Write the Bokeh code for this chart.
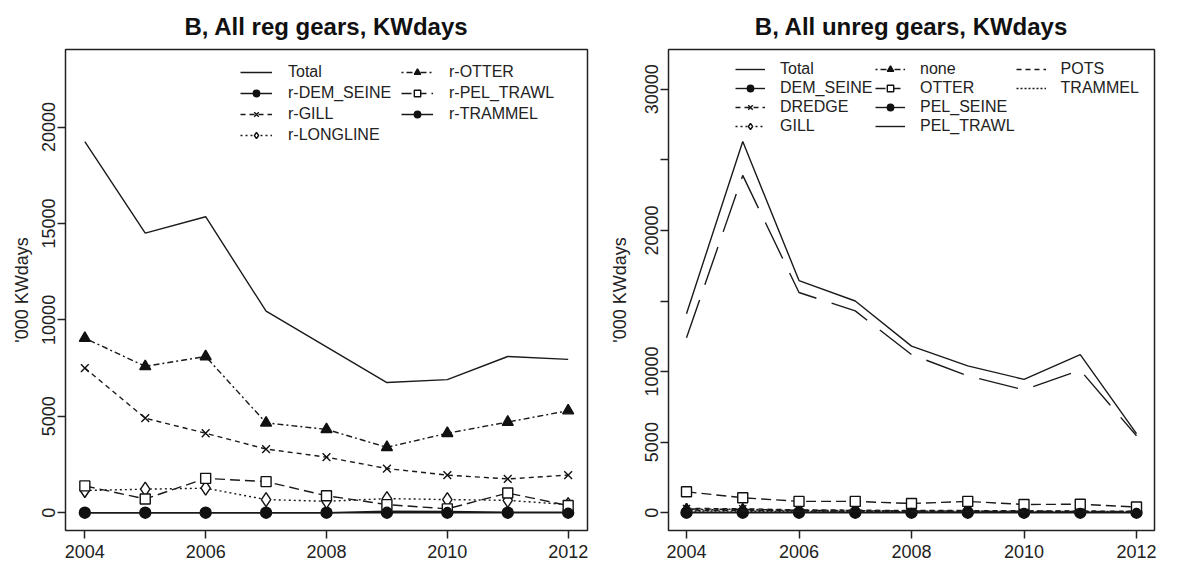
from bokeh.plotting import figure
from bokeh.models import Range1d, FixedTicker, Legend, LegendItem
from bokeh.layouts import row
from bokeh.embed import file_html
from bokeh.resources import INLINE

years = [2004, 2005, 2006, 2007, 2008, 2009, 2010, 2011, 2012]

# Left panel: regulated gears ('000 KWdays)
reg_total = [19250, 14500, 15350, 10450, 8600, 6750, 6900, 8100, 7950]
reg_dem_seine = [0, 0, 0, 0, 0, 0, 0, 0, 0]
reg_gill = [7500, 4900, 4120, 3300, 2880, 2290, 1950, 1750, 1950]
reg_longline = [1150, 1220, 1270, 680, 590, 730, 680, 640, 420]
reg_otter = [9050, 7590, 8100, 4660, 4320, 3390, 4120, 4700, 5290]
reg_pel_trawl = [1390, 710, 1780, 1610, 880, 420, 200, 1020, 370]
reg_trammel = [0, 0, 0, 0, 0, 80, 60, 30, 30]

# Right panel: unregulated gears ('000 KWdays)
unreg_total = [14100, 26300, 16450, 15000, 11800, 10400, 9450, 11200, 5600]
unreg_dem_seine = [0, 0, 0, 0, 0, 0, 0, 0, 0]
unreg_dredge = [300, 280, 200, 180, 150, 150, 130, 120, 100]
unreg_gill = [220, 200, 150, 130, 110, 100, 90, 80, 70]
unreg_none = [260, 240, 170, 150, 120, 110, 100, 90, 80]
unreg_otter = [1480, 1060, 800, 800, 650, 800, 580, 600, 400]
unreg_pel_seine = [40, 40, 30, 30, 20, 20, 20, 20, 20]
unreg_pel_trawl = [12400, 23900, 15600, 14300, 11200, 9700, 8700, 10100, 5450]
unreg_pots = [180, 170, 120, 110, 100, 90, 80, 80, 60]
unreg_trammel = [120, 110, 80, 70, 60, 60, 50, 50, 40]

reg_names = ["Total", "r-DEM_SEINE", "r-GILL", "r-LONGLINE", "r-OTTER", "r-PEL_TRAWL", "r-TRAMMEL"]
unreg_names = ["Total", "DEM_SEINE", "DREDGE", "GILL", "none", "OTTER", "PEL_SEINE", "PEL_TRAWL", "POTS", "TRAMMEL"]
x_ticks = [2004, 2006, 2008, 2010, 2012]

FONT = "Liberation Sans"


def make_fig(title, width, bl, br, ymax_data, yticks, overrides):
    M = 1.2 * ymax_data
    p = figure(width=width, height=566, output_backend="svg", toolbar_location=None,
               x_range=Range1d(2004 - 0.32, 2012 + 0.32),
               y_range=Range1d(-0.04 * M, 1.04 * M),
               min_border_left=bl, min_border_right=br, min_border_top=46, min_border_bottom=36)
    p.title.text = title
    p.title.align = "center"
    p.title.text_font = FONT
    p.title.text_font_size = "24px"
    p.title.text_font_style = "bold"
    p.title.text_color = "#111111"
    p.title.standoff = 20
    p.xgrid.visible = False
    p.ygrid.visible = False
    p.outline_line_color = "#222222"
    p.outline_line_width = 1.5
    p.background_fill_color = "white"
    p.border_fill_color = "white"
    for ax in (p.xaxis[0], p.yaxis[0]):
        ax.axis_line_color = None
        ax.major_tick_in = 0
        ax.major_tick_out = 8
        ax.major_tick_line_width = 1.5
        ax.major_tick_line_color = "#222222"
        ax.minor_tick_line_color = None
        ax.major_label_text_font = FONT
        ax.major_label_text_font_size = "18px"
        ax.major_label_text_color = "#222222"
        ax.major_label_standoff = 2
    p.xaxis.major_label_standoff = 6
    p.xaxis.ticker = FixedTicker(ticks=x_ticks)
    p.yaxis.ticker = FixedTicker(ticks=yticks)
    p.yaxis.major_label_orientation = "vertical"
    p.yaxis.major_label_overrides = overrides
    p.yaxis.axis_label = "'000 KWdays"
    p.yaxis.axis_label_text_font = FONT
    p.yaxis.axis_label_text_font_size = "18px"
    p.yaxis.axis_label_text_font_style = "normal"
    p.yaxis.axis_label_text_color = "#222222"
    return p


def add_series(p, vals, dash, marker, size, fill, lw=1.4):
    rs = [p.line(years, vals, line_color="#1a1a1a", line_width=lw, line_dash=dash)]
    if marker is not None:
        rs.append(p.scatter(years, vals, marker=marker, size=size, line_color="#111111",
                            line_width=1.4, fill_color="#111111" if fill else "white"))
    return rs


# ---------------- left panel ----------------
p1 = make_fig("B, All reg gears, KWdays", 598, 65, 11, max(reg_total),
              [0, 5000, 10000, 15000, 20000], {})
p1.yaxis.axis_label_standoff = 8
left_specs = [
    (reg_total, "solid", None, 0, False),
    (reg_dem_seine, "solid", "circle", 11, True),
    (reg_gill, "5 4", "x", 11, False),
    (reg_longline, "2 3", "diamond", 14, False),
    (reg_otter, "2 3 6 3", "triangle", 11, True),
    (reg_pel_trawl, "10 5", "square", 10, False),
    (reg_trammel, "solid", "circle", 8, True),
]
left_items = []
for name, (vals, dash, mk, sz, fill) in zip(reg_names, left_specs):
    rs = add_series(p1, vals, dash, mk, sz, fill)
    left_items.append(LegendItem(label=name, renderers=rs))

leg1 = Legend(items=left_items, location=(175, 386), ncols=2,
              glyph_width=32, glyph_height=16, label_standoff=16, label_width=110,
              spacing=3, padding=0, margin=0, border_line_color=None,
              background_fill_alpha=0, label_text_font=FONT, label_text_font_size="16px",
              label_text_color="#222222")
p1.add_layout(leg1, "center")

# ---------------- right panel ----------------
p2 = make_fig("B, All unreg gears, KWdays", 583, 70, 27, max(unreg_total),
              [0, 5000, 10000, 15000, 20000, 25000, 30000], {15000: "", 25000: ""})
p2.yaxis.axis_label_standoff = 13
right_specs = [
    (unreg_total, "solid", None, 0, False),
    (unreg_dem_seine, "solid", "circle", 11, True),
    (unreg_dredge, "5 4", "x", 10, False),
    (unreg_gill, "2 3", "diamond", 12, False),
    (unreg_none, "2 3 6 3", "triangle", 10, True),
    (unreg_otter, "10 5", "square", 10, False),
    (unreg_pel_seine, "solid", "circle", 8, True),
    (unreg_pel_trawl, "40 16", None, 0, False),
    (unreg_pots, "5 4", None, 0, False),
    (unreg_trammel, "2 2", None, 0, False),
]
right_items = []
for name, (vals, dash, mk, sz, fill) in zip(unreg_names, right_specs):
    rs = add_series(p2, vals, dash, mk, sz, fill)
    right_items.append(LegendItem(label=name, renderers=rs))

leg2 = Legend(items=right_items, location=(67, 395), ncols=3,
              glyph_width=30, glyph_height=16, label_standoff=15, label_width=94,
              spacing=1, padding=0, margin=0, border_line_color=None,
              background_fill_alpha=0, label_text_font=FONT, label_text_font_size="16px",
              label_text_color="#222222")
p2.add_layout(leg2, "center")

layout = row(p1, p2)
open("out.html", "w").write(file_html(layout, INLINE))
